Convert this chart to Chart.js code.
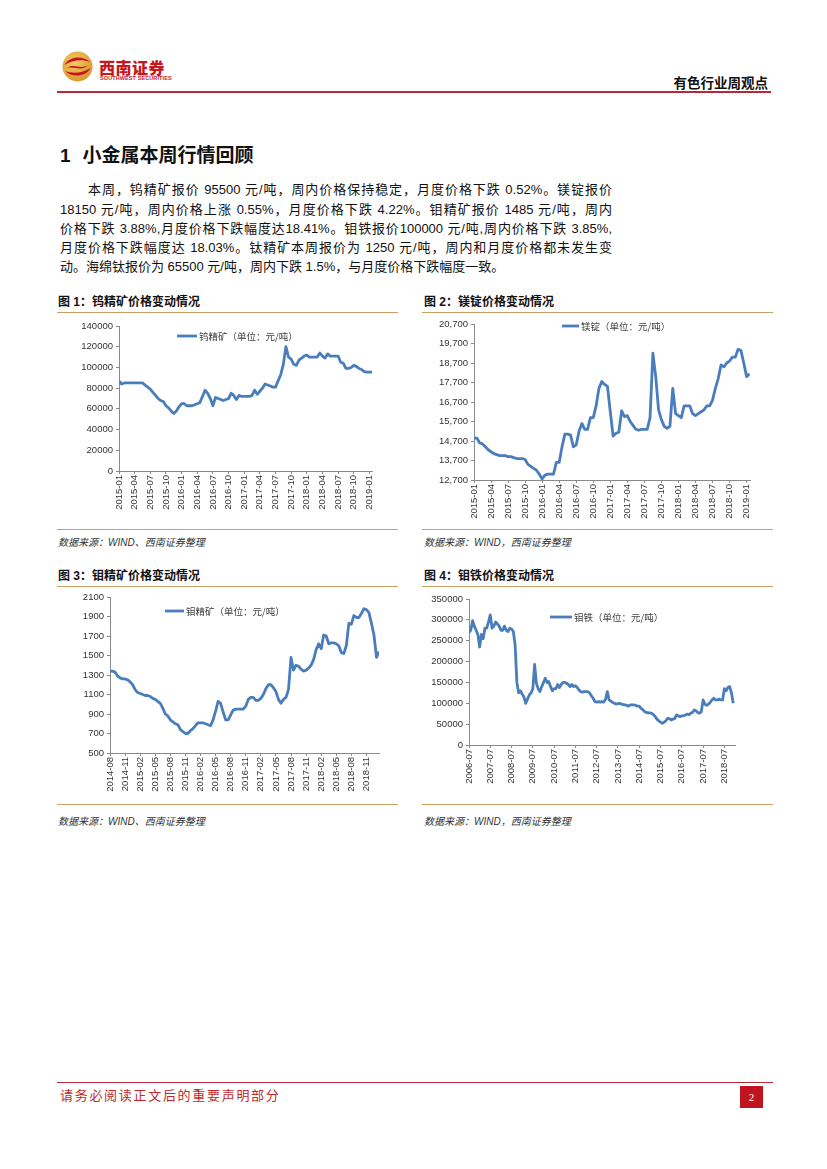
<!DOCTYPE html>
<html lang="zh-CN">
<head>
<meta charset="utf-8">
<title>有色行业周观点</title>
<script src="https://cdn.jsdelivr.net/npm/chart.js@4.4.1/dist/chart.umd.min.js"></script>
<style>
  html, body { margin: 0; padding: 0; background: #fff; }
  .page {
    position: relative; width: 827px; height: 1169px; overflow: hidden; background: #fff;
    font-family: "Liberation Sans", "Noto Sans CJK SC", sans-serif; color: #111;
  }
  .abs { position: absolute; white-space: nowrap; }
  .rule { position: absolute; height: 0; }
  .red-rule { border-top: 2px solid #b8283a; }
  .gold-rule { border-top: 1.5px solid #c9a064; }
  .para { position: absolute; height: 19px; line-height: 19px; font-size: 13px; color: #111; }
  .just { text-align: justify; text-align-last: justify; }
  .fig-title { font-size: 12px; font-weight: bold; line-height: 14px; color: #111; }
  .source { font-size: 10px; font-style: italic; line-height: 12px; color: #333; }
  canvas { position: absolute; }
</style>
</head>
<body>
<div class="page">

  <!-- 页眉 -->
  <svg class="abs" style="left:62px;top:51px" width="31" height="31" viewBox="0 0 31 31">
    <defs>
      <radialGradient id="gold" cx="40%" cy="35%" r="70%">
        <stop offset="0" stop-color="#f4ca62"/>
        <stop offset="1" stop-color="#d8952e"/>
      </radialGradient>
    </defs>
    <circle cx="15.5" cy="15.5" r="15" fill="url(#gold)"/>
    <path d="M2.5 14 C 7 5, 21 4, 28 11 C 20 8, 10 9, 2.5 14 Z" fill="#c8161d"/>
    <path d="M28.5 17 C 24 26, 10 27, 3 20 C 11 23, 21 22, 28.5 17 Z" fill="#c8161d"/>
    <path d="M5 17 C 11 12, 19 19, 26 14 C 20 21, 12 15, 5 17 Z" fill="#c8161d"/>
  </svg>
  <div class="abs" style="left:99px;top:57px;font-size:16px;line-height:20px;font-weight:900;color:#c8161d;letter-spacing:0.5px;font-family:'Noto Sans CJK SC'">西南证券</div>
  <div class="abs" style="left:100px;top:75px;font-size:5.5px;line-height:7px;font-weight:bold;color:#c8161d;letter-spacing:0.1px">SOUTHWEST SECURITIES</div>
  <div class="abs" style="right:59px;top:74px;font-size:13.5px;line-height:16px;font-weight:bold;color:#111;font-family:'Noto Sans CJK SC'">有色行业周观点</div>
  <div class="rule red-rule" style="left:57px;width:714px;top:91px"></div>

  <!-- 正文 -->
  <div class="abs" style="left:60px;top:142px;font-size:19px;line-height:24px;font-weight:bold;color:#111"><span>1</span><span style="margin-left:12px;font-family:'Noto Sans CJK SC'">小金属本周行情回顾</span></div>
  <div class="para just" style="left:88px;width:524px;top:180px">本周，钨精矿报价 95500 元/吨，周内价格保持稳定，月度价格下跌 0.52%。镁锭报价</div>
  <div class="para just" style="left:60px;width:552px;top:200px">18150 元/吨，周内价格上涨 0.55%，月度价格下跌 4.22%。钼精矿报价 1485 元/吨，周内</div>
  <div class="para just" style="left:60px;width:552px;top:219px">价格下跌 3.88%,月度价格下跌幅度达18.41%。钼铁报价100000 元/吨,周内价格下跌 3.85%,</div>
  <div class="para just" style="left:60px;width:552px;top:238px">月度价格下跌幅度达 18.03%。钛精矿本周报价为 1250 元/吨，周内和月度价格都未发生变</div>
  <div class="para" style="left:60px;top:257px">动。海绵钛报价为 65500 元/吨，周内下跌 1.5%，与月度价格下跌幅度一致。</div>

  <!-- 图 1 / 图 2 -->
  <div class="abs fig-title" style="left:58px;top:295px">图 1：钨精矿价格变动情况</div>
  <div class="abs fig-title" style="left:424px;top:295px">图 2：镁锭价格变动情况</div>
  <div class="rule gold-rule" style="left:57px;width:341px;top:312px"></div>
  <div class="rule gold-rule" style="left:422px;width:351px;top:312px"></div>
  <canvas id="tungstenChart" width="323" height="200" style="left:59px;top:316px"></canvas>
  <canvas id="magnesiumChart" width="346" height="211" style="left:414px;top:314px"></canvas>
  <div class="rule gold-rule" style="left:57px;width:341px;top:529px"></div>
  <div class="rule gold-rule" style="left:422px;width:351px;top:529px"></div>
  <div class="abs source" style="left:58px;top:537px">数据来源：WIND、西南证券整理</div>
  <div class="abs source" style="left:424px;top:537px">数据来源：WIND，西南证券整理</div>

  <!-- 图 3 / 图 4 -->
  <div class="abs fig-title" style="left:58px;top:569px">图 3：钼精矿价格变动情况</div>
  <div class="abs fig-title" style="left:424px;top:569px">图 4：钼铁价格变动情况</div>
  <div class="rule gold-rule" style="left:57px;width:341px;top:586px"></div>
  <div class="rule gold-rule" style="left:422px;width:351px;top:586px"></div>
  <canvas id="molyOreChart" width="339" height="211" style="left:50px;top:587px"></canvas>
  <canvas id="ferroMolyChart" width="336" height="201" style="left:409px;top:589px"></canvas>
  <div class="rule gold-rule" style="left:57px;width:341px;top:804px"></div>
  <div class="rule gold-rule" style="left:422px;width:351px;top:804px"></div>
  <div class="abs source" style="left:58px;top:816px">数据来源：WIND、西南证券整理</div>
  <div class="abs source" style="left:424px;top:816px">数据来源：WIND，西南证券整理</div>

  <!-- 页脚 -->
  <div class="rule red-rule" style="left:57px;width:716px;top:1082px;border-top-width:1.5px"></div>
  <div class="abs" style="left:60px;top:1087px;font-size:13px;line-height:16px;color:#c0282d;letter-spacing:1.7px;font-family:'Noto Sans CJK SC'">请务必阅读正文后的重要声明部分</div>
  <div class="abs" style="left:740px;top:1086px;width:23px;height:22px;background:#c0151f;color:#fff;font-size:11px;line-height:22px;text-align:center;font-family:'Liberation Serif',serif">2</div>
</div>

<script>
// 钨精矿（元/吨），2015-01 起每半月一个读数
const tungstenStart = '2015-01';
const tungstenPrices = [
    87000, 84000, 85000, 85000, 85000, 85000, 85000, 85000, 85000, 85000,
    83000, 81000, 79000, 76000, 73000, 70000, 68000, 67000, 63000, 61000,
    58000, 55500, 58000, 62000, 65000, 65000, 63000, 63000, 63000, 64000,
    65000, 66000, 72000, 78000, 75000, 70000, 63000, 71000, 70000, 69000,
    68000, 69000, 70000, 75000, 73000, 69000, 73000, 72000, 72000, 72000,
    72000, 73000, 78000, 74000, 77000, 80000, 84000, 83000, 82000, 81000,
    81000, 87000, 93000, 103000, 120000, 110000, 108000, 103000, 102000, 107000,
    109000, 111000, 112000, 110000, 110000, 110000, 110000, 114000, 111000, 109000,
    113000, 111000, 111000, 111000, 111000, 105000, 104000, 99000, 99000, 100000,
    102000, 101000, 99000, 98000, 96000, 95500, 95500, 95500
];
const tungstenTicksX = ['2015-01', '2015-04', '2015-07', '2015-10', '2016-01', '2016-04', '2016-07', '2016-10',
    '2017-01', '2017-04', '2017-07', '2017-10', '2018-01', '2018-04', '2018-07', '2018-10', '2019-01'];
const tungstenTicksY = [0, 20000, 40000, 60000, 80000, 100000, 120000, 140000];

// 镁锭（元/吨），2015-01 起每半月一个读数
const magnesiumStart = '2015-01';
const magnesiumPrices = [
    14850, 14850, 14600, 14550, 14400, 14250, 14150, 14050, 14000, 13950,
    13950, 13950, 13900, 13900, 13850, 13800, 13800, 13800, 13750, 13500,
    13400, 13300, 13200, 13000, 12750, 12950, 13000, 13000, 13000, 13600,
    13600, 14400, 15050, 15050, 15000, 14400, 14500, 15200, 15600, 15300,
    15300, 15900, 15900, 16500, 17400, 17750, 17600, 17500, 16200, 14950,
    15100, 15150, 16250, 15950, 16000, 15700, 15500, 15300, 15250, 15300,
    15300, 15300, 15900, 19200, 18000, 16300, 15800, 15450, 15350, 15450,
    17400, 16100, 16000, 15900, 16500, 16500, 16500, 16100, 16000, 16100,
    16200, 16300, 16500, 16500, 16800, 17400, 17900, 18600, 18500, 18700,
    18800, 19000, 19000, 19400, 19350, 18700, 18000, 18150
];
const magnesiumTicksX = tungstenTicksX;
const magnesiumTicksY = [12700, 13700, 14700, 15700, 16700, 17700, 18700, 19700, 20700];

// 钼精矿（元/吨度），2014-08 起每半月一个读数
const molyOreStart = '2014-08';
const molyOrePrices = [
    1340, 1340, 1330, 1290, 1270, 1260, 1260, 1250, 1230, 1200,
    1150, 1120, 1110, 1100, 1090, 1090, 1080, 1060, 1050, 1030,
    1010, 960, 900, 880, 840, 820, 800, 790, 740, 720,
    700, 700, 730, 750, 780, 810, 810, 810, 800, 790,
    780, 840, 930, 1030, 1010, 920, 840, 840, 890, 940,
    950, 950, 950, 950, 980, 1050, 1070, 1070, 1040, 1040,
    1060, 1100, 1160, 1200, 1200, 1170, 1130, 1050, 1010, 1050,
    1070, 1150, 1480, 1350, 1400, 1390, 1360, 1340, 1350, 1370,
    1400, 1460, 1560, 1620, 1570, 1710, 1700, 1620, 1630, 1630,
    1620, 1600, 1530, 1520, 1600, 1830, 1820, 1910, 1890, 1890,
    1930, 1980, 1970, 1940, 1830, 1710, 1480, 1540
];
const molyOreTicksX = ['2014-08', '2014-11', '2015-02', '2015-05', '2015-08', '2015-11', '2016-02', '2016-05', '2016-08',
    '2016-11', '2017-02', '2017-05', '2017-08', '2017-11', '2018-02', '2018-05', '2018-08', '2018-11'];
const molyOreTicksY = [500, 700, 900, 1100, 1300, 1500, 1700, 1900, 2100];

// 钼铁（元/吨），2006-07 起每月一个读数
const ferroMolyStart = '2006-07';
const ferroMolyPrices = [
    270000, 275000, 298000, 285000, 275000, 265000, 235000, 265000, 255000, 280000,
    280000, 295000, 312000, 280000, 285000, 295000, 290000, 285000, 275000, 275000,
    285000, 275000, 272000, 280000, 278000, 272000, 240000, 150000, 125000, 130000,
    122000, 115000, 100000, 110000, 120000, 125000, 135000, 193000, 148000, 135000,
    128000, 140000, 150000, 160000, 150000, 152000, 140000, 130000, 135000, 135000,
    145000, 138000, 145000, 150000, 150000, 148000, 145000, 140000, 145000, 140000,
    142000, 138000, 132000, 128000, 127000, 128000, 128000, 128000, 125000, 118000,
    112000, 104000, 103000, 104000, 103000, 104000, 103000, 110000, 128000, 108000,
    105000, 102000, 100000, 98000, 99000, 100000, 98000, 97000, 96000, 95000,
    93000, 96000, 96000, 96000, 95000, 93000, 93000, 88000, 85000, 80000,
    78000, 77000, 77000, 76000, 73000, 68000, 62000, 58000, 55000, 52000,
    55000, 58000, 64000, 63000, 60000, 62000, 63000, 72000, 70000, 68000,
    70000, 70000, 72000, 74000, 73000, 76000, 78000, 84000, 82000, 78000,
    76000, 80000, 108000, 98000, 95000, 98000, 102000, 108000, 112000, 108000,
    108000, 110000, 108000, 108000, 135000, 130000, 138000, 140000, 125000, 100000
];
const ferroMolyTicksX = ['2006-07', '2007-07', '2008-07', '2009-07', '2010-07', '2011-07', '2012-07',
    '2013-07', '2014-07', '2015-07', '2016-07', '2017-07', '2018-07'];
const ferroMolyTicksY = [0, 50000, 100000, 150000, 200000, 250000, 300000, 350000];

const lineColor = '#4a7dbb';
const axisColor = '#8a8a8a';
const tickColor = '#333';

// 图内图例：一段线 + 文字
const lineLegend = {
    id: 'lineLegend',
    afterDraw(chart, args, opts) {
        const { ctx, chartArea } = chart;
        const x = chartArea.left + opts.x;
        const y = chartArea.top + opts.y;
        ctx.save();
        ctx.strokeStyle = lineColor;
        ctx.lineWidth = 2.8;
        ctx.beginPath();
        ctx.moveTo(x, y);
        ctx.lineTo(x + opts.len, y);
        ctx.stroke();
        ctx.fillStyle = '#404040';
        ctx.font = '9.5px "Noto Sans CJK SC", sans-serif';
        ctx.textBaseline = 'middle';
        ctx.fillText(opts.text, x + opts.len + 2, y);
        ctx.restore();
    }
};

// 相对起始月份的月数
function monthOffset(start, ym) {
    const [y0, m0] = start.split('-').map(Number);
    const [y1, m1] = ym.split('-').map(Number);
    return (y1 - y0) * 12 + (m1 - m0);
}

function makePriceChart(id, spec) {
    const canvas = document.getElementById(id);
    const xTickValues = spec.ticksX.map(l => monthOffset(spec.start, l));

    return new Chart(canvas, {
        type: 'line',
        data: {
            datasets: [{
                label: spec.name,
                data: spec.values.map((v, i) => ({ x: i * spec.step, y: v })),
                borderColor: lineColor,
                borderWidth: 2.8,
                borderJoinStyle: 'round',
                pointRadius: 0,
                tension: 0,
                fill: false
            }]
        },
        options: {
            responsive: false,
            animation: false,
            layout: { padding: { top: 10, right: 10, left: 0, bottom: 0 } },
            plugins: {
                legend: { display: false },
                tooltip: { enabled: false },
                lineLegend: { text: spec.name + '（单位：元/吨）', x: spec.legend[0], y: spec.legend[1], len: spec.legend[2] }
            },
            scales: {
                x: {
                    type: 'linear',
                    min: 0,
                    max: spec.xMax,
                    afterBuildTicks: s => { s.ticks = xTickValues.map(v => ({ value: v })); },
                    afterFit: s => { s.height = 45; },
                    ticks: {
                        autoSkip: false,
                        minRotation: 90,
                        maxRotation: 90,
                        padding: 1,
                        color: tickColor,
                        callback: (v, i) => spec.ticksX[i]
                    },
                    grid: { display: true, drawOnChartArea: false, tickLength: 3, color: axisColor },
                    border: { display: true, color: axisColor }
                },
                y: {
                    min: spec.ticksY[0],
                    max: spec.ticksY[spec.ticksY.length - 1],
                    afterBuildTicks: s => { s.ticks = spec.ticksY.map(v => ({ value: v })); },
                    afterFit: s => { s.width = 60; },
                    ticks: {
                        padding: 3,
                        color: tickColor,
                        callback: v => spec.comma ? v.toLocaleString('en-US') : String(v)
                    },
                    grid: { display: true, drawOnChartArea: false, tickLength: 3, color: axisColor },
                    border: { display: true, color: axisColor }
                }
            }
        },
        plugins: [lineLegend]
    });
}

Chart.defaults.font.family = '"Liberation Sans", "Noto Sans CJK SC", sans-serif';
Chart.defaults.font.size = 9.5;
Chart.defaults.color = tickColor;

makePriceChart('tungstenChart', {
    name: '钨精矿', start: tungstenStart, values: tungstenPrices, step: 0.5, xMax: 48.5,
    ticksX: tungstenTicksX, ticksY: tungstenTicksY, legend: [58, 10, 20]
});
makePriceChart('magnesiumChart', {
    name: '镁锭', start: magnesiumStart, values: magnesiumPrices, step: 0.5, xMax: 48.6,
    ticksX: magnesiumTicksX, ticksY: magnesiumTicksY, comma: true, legend: [88, 2, 17]
});
makePriceChart('molyOreChart', {
    name: '钼精矿', start: molyOreStart, values: molyOrePrices, step: 0.5, xMax: 53.5,
    ticksX: molyOreTicksX, ticksY: molyOreTicksY, legend: [55, 14, 19]
});
makePriceChart('ferroMolyChart', {
    name: '钼铁', start: ferroMolyStart, values: ferroMolyPrices, step: 1, xMax: 150,
    ticksX: ferroMolyTicksX, ticksY: ferroMolyTicksY, legend: [81, 18, 22]
});
</script>
</body>
</html>
